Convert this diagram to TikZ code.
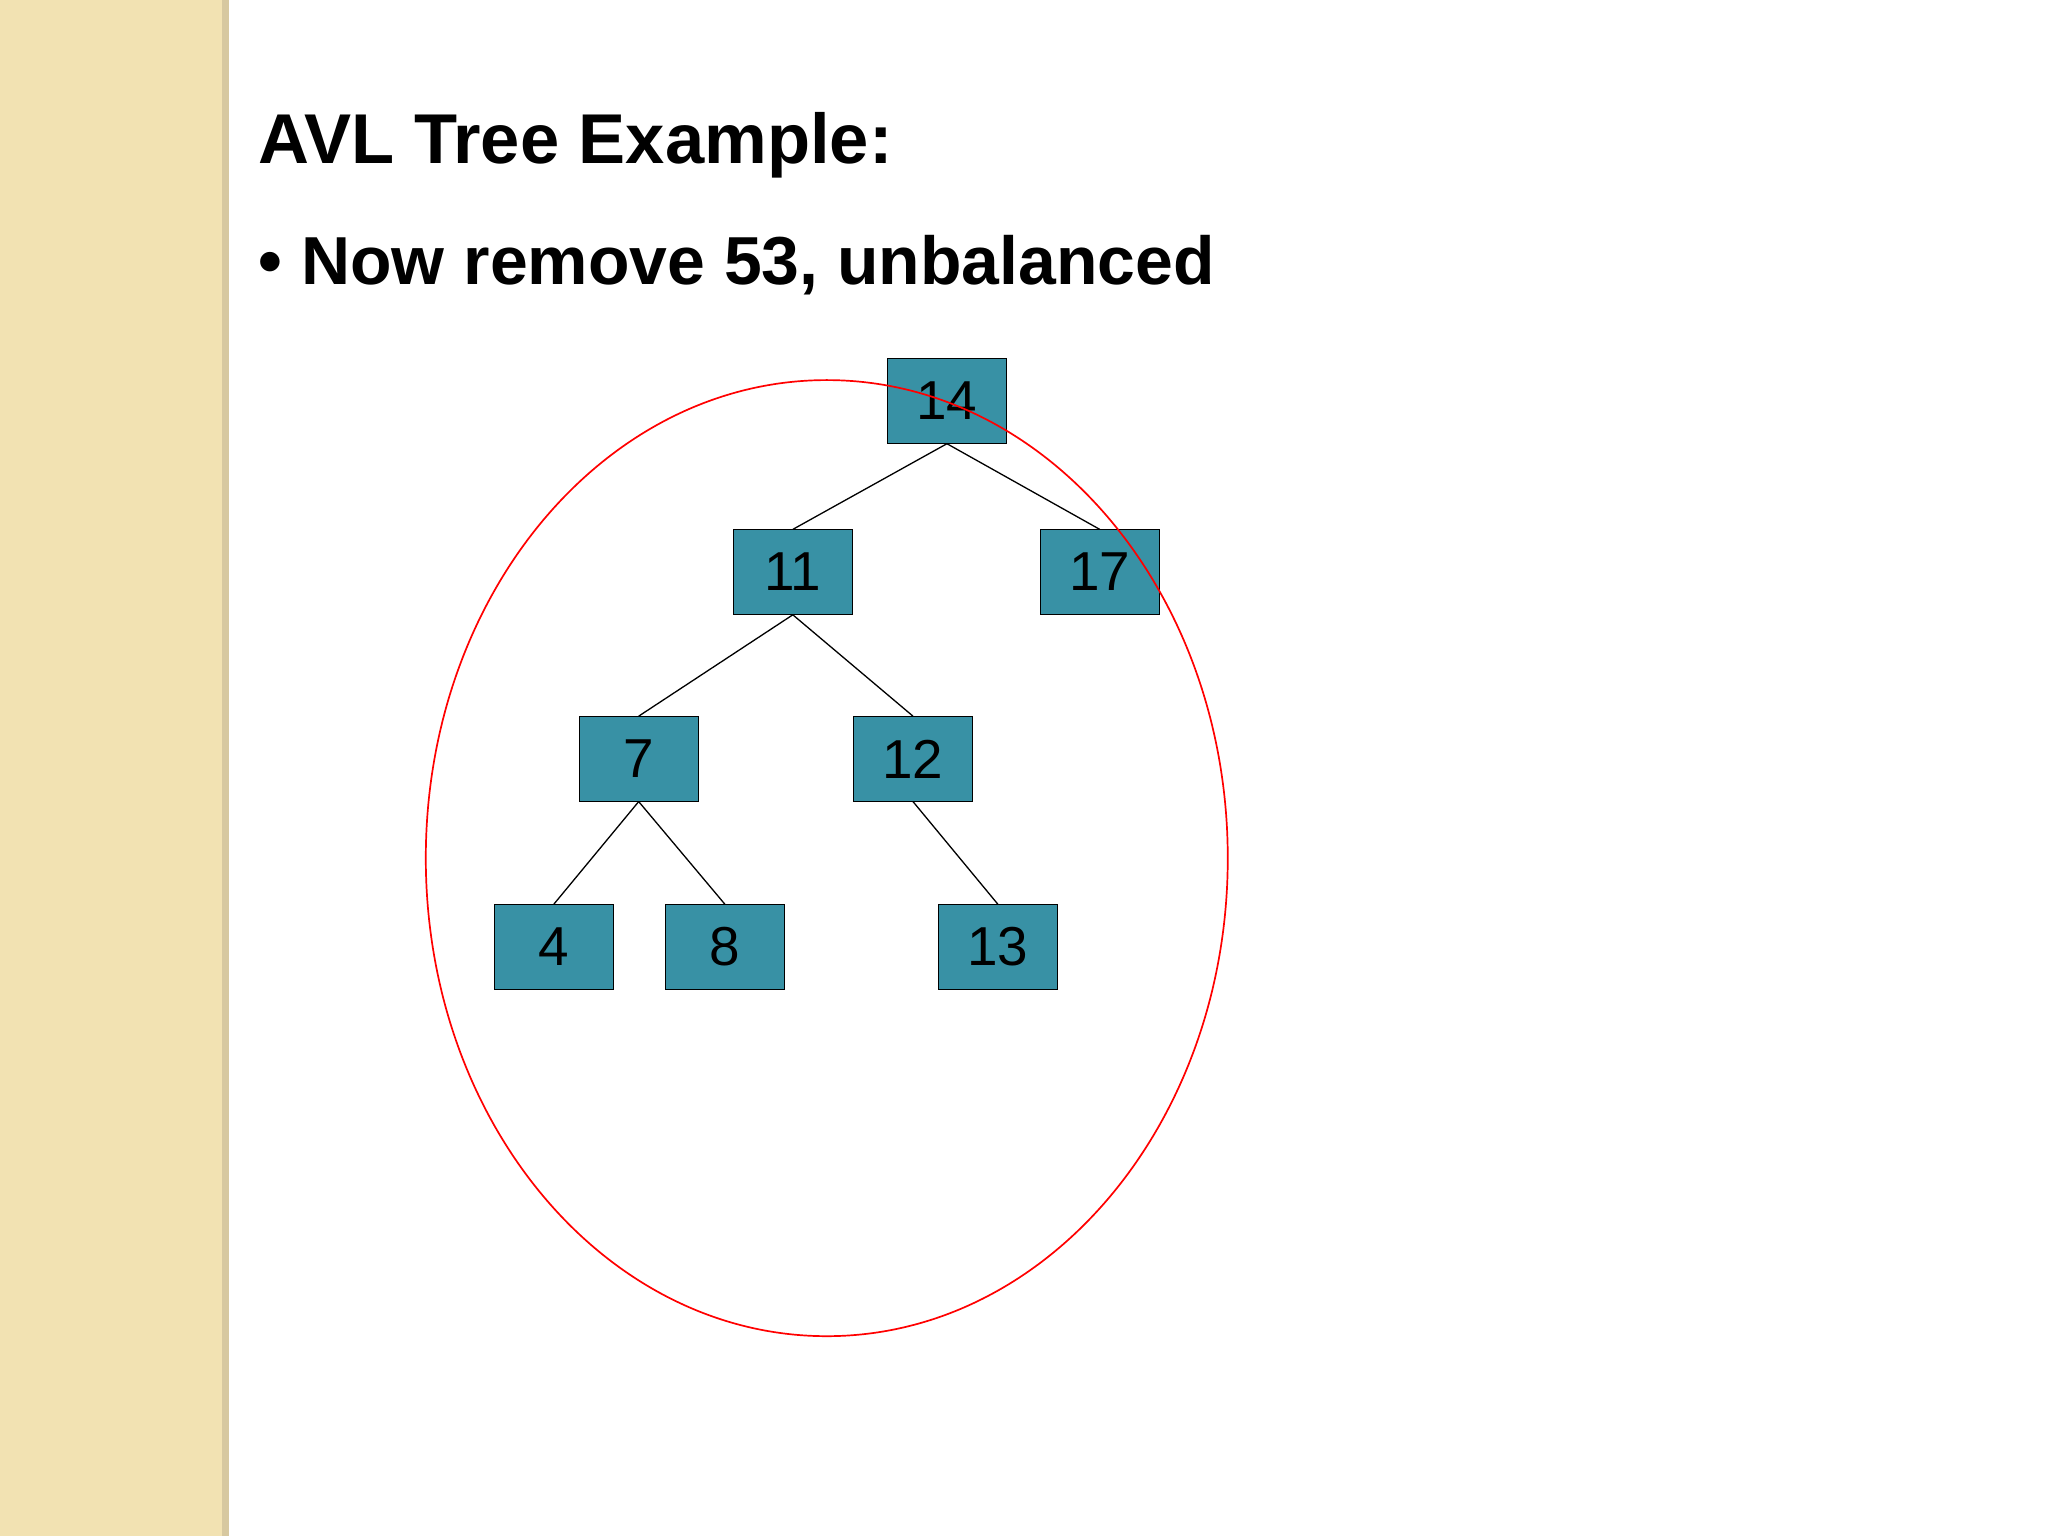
\documentclass[tikz,border=0pt]{standalone}
\usepackage{fontspec}
\setmainfont{Liberation Sans}
\definecolor{teal1}{RGB}{56,145,165}
\definecolor{beige1}{RGB}{242,226,178}
\definecolor{beige2}{RGB}{215,200,160}
\begin{document}
\begin{tikzpicture}[x=1pt,y=-1pt,
  tnode/.style={draw=black,fill=teal1,minimum width=91pt,minimum height=65pt,inner sep=0pt,font=\fontsize{42}{48}\selectfont},
  edge/.style={draw=black,line width=1pt}]
\useasboundingbox (0,0) rectangle (1568,1176);
\fill[beige1] (0,0) rectangle (170,1176);
\fill[beige2] (170,0) rectangle (175,1176);
\node[anchor=base west,font=\bfseries\fontsize{54}{60}\selectfont,inner sep=0pt] (title) at (198,125) {AVL Tree Example:};
\node[anchor=base west,font=\bfseries\fontsize{52}{60}\selectfont,inner sep=0pt] (bullet) at (198,218) {\textbullet\ Now remove 53, unbalanced};
\node[tnode] (n14) at (725,307) {14};
\node[tnode] (n11) at (607,438) {11};
\node[tnode] (n17) at (842,438) {17};
\node[tnode] (n7) at (489,581) {7};
\node[tnode] (n12) at (699,581) {12};
\node[tnode] (n4) at (424,725) {4};
\node[tnode] (n8) at (555,725) {8};
\node[tnode] (n13) at (764,725) {13};
\draw[edge] (n14.south) -- (n11.north);
\draw[edge] (n14.south) -- (n17.north);
\draw[edge] (n11.south) -- (n7.north);
\draw[edge] (n11.south) -- (n12.north);
\draw[edge] (n7.south) -- (n4.north);
\draw[edge] (n7.south) -- (n8.north);
\draw[edge] (n12.south) -- (n13.north);
\draw[red,line width=1.3pt] (633,657) ellipse [x radius=307, y radius=366];
\end{tikzpicture}
\end{document}
